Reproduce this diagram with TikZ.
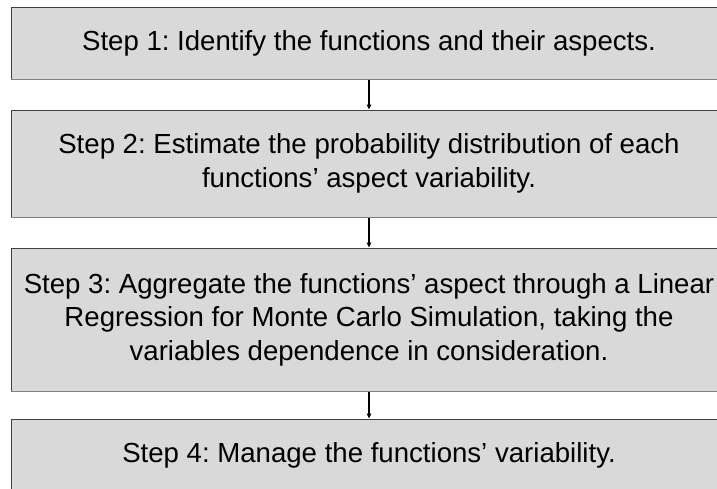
\documentclass[tikz,border=0pt]{standalone}
\usepackage{fontspec}
\setmainfont{Liberation Sans}
\usepackage{xcolor}
\usetikzlibrary{arrows.meta}
\definecolor{stepfill}{HTML}{D9D9D9}
\definecolor{stepline}{HTML}{404040}
\definecolor{stepshade}{HTML}{808080}
\frenchspacing

\begin{document}
\begin{tikzpicture}[
  x=1pt, y=1pt,
  stepbox/.style={draw=stepline, fill=stepfill, line width=1pt, minimum width=716pt, inner sep=0pt, align=center, font=\fontsize{27.6}{33.5}\selectfont},
  arr/.style={-{Triangle[length=5pt, width=4.5pt]}, black, line width=1.3pt}
]
  \useasboundingbox (0,0) rectangle (717,-488);

  \node[stepbox, minimum height=72pt] (s1) at (369,-43) {Step 1: Identify the functions and their aspects.};
  \node[stepbox, minimum height=107pt] (s2) at (369,-163.5) {Step 2: Estimate the probability distribution of each\\functions’ aspect variability.};
  \node[stepbox, minimum height=143pt] (s3) at (369,-319.5) {Step 3: Aggregate the functions’ aspect through a Linear\\Regression for Monte Carlo Simulation, taking the\\variables dependence in consideration.};
  \node[stepbox, minimum height=72pt] (s4) at (369,-455) {Step 4: Manage the functions’ variability.};

  % lighter lower edges
  \foreach \s in {s1,s2,s3}
    \draw[stepshade, line width=1.5pt] (\s.south west) -- (\s.south east);

  \draw[arr] (s1) -- (s2);
  \draw[arr] (s2) -- (s3);
  \draw[arr] (s3) -- (s4);
\end{tikzpicture}
\end{document}
